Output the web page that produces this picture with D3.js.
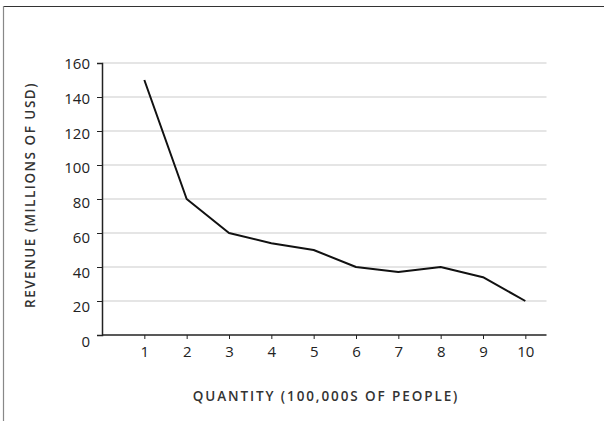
<!DOCTYPE html>
<html>
<head>
<meta charset="utf-8">
<script src="https://cdn.jsdelivr.net/npm/d3@7"></script>
<style>
  html, body { margin: 0; padding: 0; background: #fff; }
  svg { display: block; }
  .tick text { font-family: "Open Sans", sans-serif; font-size: 15px; fill: #222; }
  .title { font-family: "Open Sans", sans-serif; font-size: 13.5px; font-weight: 600; fill: #333; }
</style>
</head>
<body>
<svg id="chart" width="604" height="421"></svg>
<script>
const quantities = [1, 2, 3, 4, 5, 6, 7, 8, 9, 10];
const revenue = [150, 80, 60, 54, 50, 40, 37, 40, 34, 20];
const yTicks = [0, 20, 40, 60, 80, 100, 120, 140, 160];
const xTicks = [1, 2, 3, 4, 5, 6, 7, 8, 9, 10];
const xTitle = "QUANTITY (100,000S OF PEOPLE)";
const yTitle = "REVENUE (MILLIONS OF USD)";

const svg = d3.select("#chart");

// frame
svg.append("line").attr("x1", 3.5).attr("x2", 604).attr("y1", 6.5).attr("y2", 6.5)
  .attr("stroke", "#333").attr("stroke-width", 1.2);
svg.append("line").attr("x1", 3.5).attr("x2", 3.5).attr("y1", 6).attr("y2", 421)
  .attr("stroke", "#888").attr("stroke-width", 1.2);

const x = d3.scaleLinear().domain([0, 10.5]).range([102, 546.5]);
const y = d3.scaleLinear().domain([0, 160]).range([335, 63]);
const yLabel = d3.scaleLinear().domain([0, 160]).range([341.5, 63.5]);

// gridlines
svg.append("g").selectAll("line").data(yTicks.filter(d => d > 0)).join("line")
  .attr("x1", x(0)).attr("x2", x(10.5))
  .attr("y1", d => y(d)).attr("y2", d => y(d))
  .attr("stroke", "#dcdcdc").attr("stroke-width", 1.5);

// y axis
const gy = svg.append("g").attr("transform", `translate(${x(0)},0)`)
  .call(d3.axisLeft(y).tickValues(yTicks).tickSize(5).tickPadding(7));
gy.select(".domain").attr("stroke", "#222").attr("stroke-width", 1.5);
gy.selectAll(".tick line").attr("stroke", "#222");
gy.selectAll(".tick text").attr("dy", d => (yLabel(d) - y(d)) + 5);

// x axis
const gx = svg.append("g").attr("transform", `translate(0,${y(0)})`)
  .call(d3.axisBottom(x).tickValues(xTicks).tickSize(4).tickPadding(7));
gx.select(".domain").attr("stroke", "#222").attr("stroke-width", 1.5)
  .attr("d", `M${x(0)},0H${x(10.5)}`);
gx.selectAll(".tick line").attr("stroke", "#222");

// line
const data = quantities.map((q, i) => ({ q, v: revenue[i] }));
svg.append("path").datum(data)
  .attr("fill", "none").attr("stroke", "#111").attr("stroke-width", 2)
  .attr("stroke-linejoin", "round")
  .attr("d", d3.line().x(d => x(d.q)).y(d => y(d.v)));

// titles
svg.append("text").attr("class", "title").style("letter-spacing", "1.9px")
  .attr("x", 326).attr("y", 401).attr("text-anchor", "middle").text(xTitle);
svg.append("text").attr("class", "title").style("letter-spacing", "1.5px")
  .attr("transform", "translate(35,195) rotate(-90)")
  .attr("text-anchor", "middle").text(yTitle);
</script>
</body>
</html>
